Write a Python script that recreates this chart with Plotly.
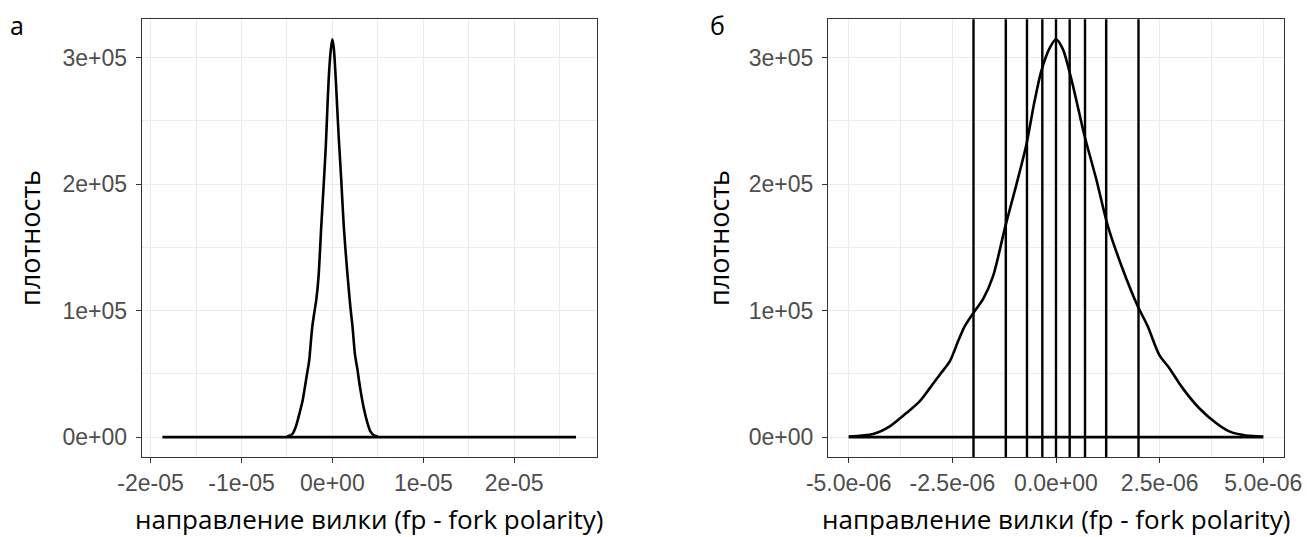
import plotly.graph_objects as go

# ---- data ----
# kernel density of fork polarity, x in units of 1e-6, density in units of 1e3
fp_x = [-5.0, -4.41, -4.01, -3.61, -3.29, -3.04, -2.80, -2.56, -2.36, -2.20, -1.96, -1.76,
        -1.52, -1.22, -0.96, -0.72, -0.52, -0.36, -0.16, 0.0, 0.16, 0.37, 0.69, 0.97,
        1.25, 1.61, 1.97, 2.21, 2.49, 2.73, 3.05, 3.45, 3.86, 4.18, 4.58, 5.0]
fp_density = [0.5, 2.4, 8.5, 19, 28.3, 38.9, 49.5, 60, 75.9, 87.8, 99.7, 109,
              127, 167, 199, 230.5, 265, 288.7, 307, 314.5, 307, 283, 238, 204,
              167, 132.7, 103.6, 87.8, 65, 54.7, 38.9, 23, 11.1, 4.5, 1.3, 0.5]
# full-data range (panel a), units 1e-6
full_min = -18.7
full_max = 26.8
# decile positions (panel b), units 1e-6
deciles = [-1.99, -1.21, -0.70, -0.33, 0.0, 0.33, 0.70, 1.21, 1.99]

left_ticks = [-2e-5, -1e-5, 0, 1e-5, 2e-5]
left_ticklabels = ["-2e-05", "-1e-05", "0e+00", "1e-05", "2e-05"]
right_ticks = [-5e-6, -2.5e-6, 0, 2.5e-6, 5e-6]
right_ticklabels = ["-5.0e-06", "-2.5e-06", "0.0e+00", "2.5e-06", "5.0e-06"]
y_ticks = [0, 1e5, 2e5, 3e5]
y_ticklabels = ["0e+00", "1e+05", "2e+05", "3e+05"]

xlabel = "направление вилки (fp - fork polarity)"
ylabel = "плотность"
panel_labels = ["а", "б"]

# ---- build series ----
xs = [v * 1e-6 for v in fp_x]
ys = [v * 1e3 for v in fp_density]

W, H = 1310, 537
def px(x):
    return x / W
def py(y):
    return 1 - y / H

fig = go.Figure()
line = dict(color="black", width=2.6, shape="spline", smoothing=0.8)
base = dict(color="black", width=2.6)
# panel a: density curve + baseline over full data range
fig.add_trace(go.Scatter(x=xs, y=ys, mode="lines", line=line,
                         xaxis="x", yaxis="y", showlegend=False, hoverinfo="skip"))
fig.add_trace(go.Scatter(x=[full_min * 1e-6, full_max * 1e-6], y=[0, 0], mode="lines", line=base,
                         xaxis="x", yaxis="y", showlegend=False, hoverinfo="skip"))
# panel b
fig.add_trace(go.Scatter(x=xs, y=ys, mode="lines", line=line,
                         xaxis="x2", yaxis="y2", showlegend=False, hoverinfo="skip"))
fig.add_trace(go.Scatter(x=[xs[0], xs[-1]], y=[0, 0], mode="lines", line=base,
                         xaxis="x2", yaxis="y2", showlegend=False, hoverinfo="skip"))
for d in deciles:
    fig.add_shape(type="line", xref="x2", yref="y2 domain", x0=d * 1e-6, x1=d * 1e-6,
                  y0=0, y1=1, line=dict(color="black", width=2.4))

peak = max(ys)
yr = [-0.05 * peak, 1.05 * peak]

def span(lo, hi):
    return [lo - 0.05 * (hi - lo), hi + 0.05 * (hi - lo)]

tickfont = dict(family="Liberation Sans, Arial", size=23, color="#4d4d4d")
grid = "#ebebeb"
common = dict(showline=True, mirror=True, linecolor="#333333", linewidth=1.2,
              ticks="outside", ticklen=5, tickwidth=1.2, tickcolor="#333333",
              showgrid=True, gridcolor=grid, gridwidth=1.4, zeroline=False,
              tickfont=tickfont, automargin=False)

ydom = [py(457), py(19.3)]
fig.update_layout(
    template="none",
    width=W, height=H, margin=dict(l=0, r=0, t=0, b=0, autoexpand=False),
    paper_bgcolor="white", plot_bgcolor="white",
    xaxis=dict(domain=[px(141.7), px(596.7)], anchor="y",
               range=span(full_min * 1e-6, full_max * 1e-6),
               tickvals=left_ticks, ticktext=left_ticklabels, ticklabelstandoff=0,
               minor=dict(dtick=5e-6, tick0=0, showgrid=True, gridcolor=grid, gridwidth=1, ticks=""),
               **common),
    yaxis=dict(domain=ydom, anchor="x", range=yr,
               tickvals=y_ticks, ticktext=y_ticklabels, ticklabelstandoff=4,
               minor=dict(dtick=5e4, tick0=0, showgrid=True, gridcolor=grid, gridwidth=1, ticks=""),
               **common),
    xaxis2=dict(domain=[px(828), px(1284)], anchor="y2",
                range=span(xs[0], xs[-1]),
                tickvals=right_ticks, ticktext=right_ticklabels, ticklabelstandoff=0,
                minor=dict(dtick=1.25e-6, tick0=0, showgrid=True, gridcolor=grid, gridwidth=1, ticks=""),
                **common),
    yaxis2=dict(domain=ydom, anchor="x2", range=yr,
                tickvals=y_ticks, ticktext=y_ticklabels, ticklabelstandoff=4,
                minor=dict(dtick=5e4, tick0=0, showgrid=True, gridcolor=grid, gridwidth=1, ticks=""),
                **common),
)

titlefont = dict(family="Open Sans", size=26, color="black")
ann = []
for cx in [(141.7 + 596.7) / 2, (828 + 1284) / 2]:
    ann.append(dict(x=px(cx), y=py(519), xref="paper", yref="paper", text=xlabel,
                    showarrow=False, font=titlefont, xanchor="center", yanchor="middle"))
for cx in [29, 718]:
    ann.append(dict(x=px(cx), y=py(238), xref="paper", yref="paper", text=ylabel,
                    textangle=-90, showarrow=False, font=dict(family="Open Sans", size=27, color="black"),
                    xanchor="center", yanchor="middle"))
for (cx, cy), lab in zip([(17, 25), (717, 25)], panel_labels):
    ann.append(dict(x=px(cx), y=py(cy), xref="paper", yref="paper", text=lab,
                    showarrow=False, font=dict(family="Open Sans", size=25, color="black"),
                    xanchor="center", yanchor="middle"))
fig.update_layout(annotations=ann)

fig.write_html("out.html")
